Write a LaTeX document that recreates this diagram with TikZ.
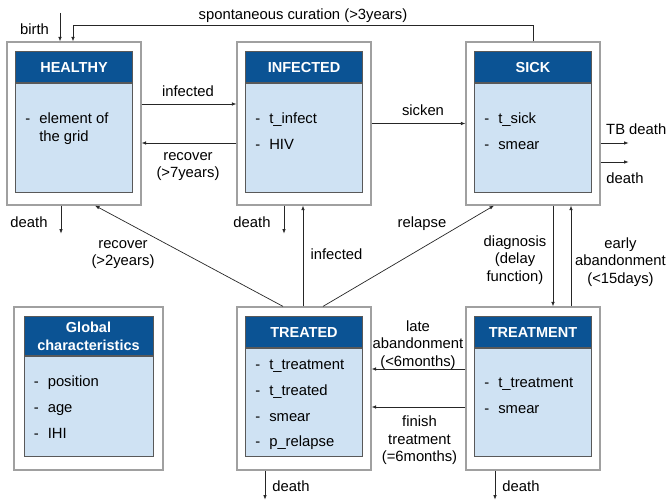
\documentclass[tikz,border=0pt]{standalone}
\usepackage{fontspec}
\setmainfont{Liberation Sans}
\usetikzlibrary{positioning,calc,arrows.meta}

\definecolor{hdrblue}{HTML}{0B5394}
\definecolor{bodyblue}{HTML}{CFE2F3}
\definecolor{boxgray}{HTML}{A0A0A0}
\definecolor{linegray}{HTML}{595959}

\newcommand{\itm}[1]{\makebox[14pt][l]{-}#1}

\tikzset{
	outer/.style={draw=boxgray, line width=1.2pt, fill=white, minimum width=134pt, minimum height=163pt, inner sep=0pt},
	head/.style={draw=linegray, line width=0.8pt, fill=hdrblue, text=white, font=\fontsize{14.5}{18}\selectfont\bfseries, minimum width=117pt, minimum height=31pt, inner sep=0pt, align=center},
	body/.style={draw=linegray, line width=0.8pt, fill=bodyblue, minimum width=117pt, minimum height=109pt, inner sep=0pt},
	attr/.style={anchor=north west, align=left, inner sep=0pt, font=\fontsize{14.8}{18}\selectfont},
	lbl/.style={align=center, inner sep=0pt, font=\fontsize{14.8}{17.5}\selectfont},
	arr/.style={-{Latex[length=4.5pt,width=3.5pt]}, draw=black!85, line width=0.7pt},
	ln/.style={draw=black!85, line width=0.7pt}
}

\begin{document}
\begin{tikzpicture}[x=1pt, y=-1pt]
	\useasboundingbox (0,0) rectangle (666,502);

	% stati
	\node[outer] (healthy) at (74, 123.5) {};
	\node[outer] (infected) at (304, 123.5) {};
	\node[outer] (sick) at (533, 123.5) {};
	\node[outer, minimum width=149pt] (glob) at (88.5, 388.5) {};
	\node[outer] (treated) at (304, 388.5) {};
	\node[outer] (treatment) at (533, 388.5) {};

	\node[head, below=10pt of healthy.north] (healthyhead) {HEALTHY};
	\node[body, below=0pt of healthyhead] (healthybody) {};
	\node[attr] (healthyattr) at ([xshift=10pt, yshift=-29.5pt]healthybody.north west) {\itm{element of}\\\hspace*{14pt}the grid};

	\node[head, below=10pt of infected.north] (infectedhead) {INFECTED};
	\node[body, below=0pt of infectedhead] (infectedbody) {};
	\node[attr] (infectedattr) at ([xshift=10pt, yshift=-29.5pt]infectedbody.north west) {\itm{t\_infect}\\[8pt]\itm{HIV}};

	\node[head, below=10pt of sick.north] (sickhead) {SICK};
	\node[body, below=0pt of sickhead] (sickbody) {};
	\node[attr] (sickattr) at ([xshift=10pt, yshift=-29.5pt]sickbody.north west) {\itm{t\_sick}\\[8pt]\itm{smear}};

	\node[head, minimum width=129pt, minimum height=39pt, below=10pt of glob.north] (globhead) {Global\\characteristics};
	\node[body, minimum width=129pt, minimum height=100pt, below=0pt of globhead] (globbody) {};
	\node[attr] (globattr) at ([xshift=10pt, yshift=-19.5pt]globbody.north west) {\itm{position}\\[8pt]\itm{age}\\[8pt]\itm{IHI}};

	\node[head, below=10pt of treated.north] (treatedhead) {TREATED};
	\node[body, minimum height=108pt, below=0pt of treatedhead] (treatedbody) {};
	\node[attr] (treatedattr) at ([xshift=10pt, yshift=-11.5pt]treatedbody.north west) {\itm{t\_treatment}\\[7.8pt]\itm{t\_treated}\\[7.8pt]\itm{smear}\\[7.8pt]\itm{p\_relapse}};

	\node[head, below=10pt of treatment.north] (treatmenthead) {TREATMENT};
	\node[body, minimum height=108pt, below=0pt of treatmenthead] (treatmentbody) {};
	\node[attr] (treatmentattr) at ([xshift=10pt, yshift=-29.5pt]treatmentbody.north west) {\itm{t\_treatment}\\[8pt]\itm{smear}};

	% transizioni
	\coordinate (birth) at (60, 13);
	\draw[arr] (birth) -- (birth |- healthy.north);
	\node[lbl] (lbirth) at (34.5, 29) {birth};

	\draw[arr] (sick.north) -- ++(0,-16) -| ([xshift=-1pt]healthy.north);
	\node[lbl] (lspont) at (303, 16) {spontaneous curation (>3years)};

	\draw[arr] ([yshift=19.5pt]healthy.east) -- ([yshift=19.5pt]infected.west);
	\node[lbl] (linf) at (188, 91) {infected};
	\draw[arr] ([yshift=-19.5pt]infected.west) -- ([yshift=-19.5pt]healthy.east);
	\node[lbl] (lrec7) at (188, 166.5) {recover\\(>7years)};

	\draw[arr] (infected.east) -- (sick.west);
	\node[lbl] (lsick) at (423, 110) {sicken};

	\draw[arr] ([yshift=-19.5pt]sick.east) -- ++(28,0);
	\node[lbl, anchor=west] (ltbd) at (606, 129) {TB death};
	\draw[arr] ([yshift=-38.5pt]sick.east) -- ++(28,0);
	\node[lbl] (lsdeath) at (625, 178) {death};

	\draw[arr] ([xshift=-13pt]healthy.south) -- ++(0,28);
	\node[lbl] (lhdeath) at (29, 222) {death};
	\draw[arr] ([xshift=-20pt]infected.south) -- ++(0,28);
	\node[lbl] (lideath) at (252, 222) {death};

	\draw[arr] ([xshift=-1pt]treated.north) -- ([xshift=-1pt]infected.south);
	\node[lbl] (linf2) at (336.5, 254) {infected};
	\draw[arr] ([xshift=-21pt]treated.north) -- ([xshift=21pt]healthy.south);
	\node[lbl] (lrec2) at (123, 254.5) {recover\\(>2years)};
	\draw[arr] ([xshift=19pt]treated.north) -- ([xshift=-39pt]sick.south);
	\node[lbl] (lrelapse) at (422, 223.5) {relapse};

	\draw[arr] ([xshift=20pt]sick.south) -- ([xshift=20pt]treatment.north);
	\node[lbl] (ldiag) at (515, 260) {diagnosis\\(delay\\function)};
	\draw[arr] ([xshift=38pt]treatment.north) -- ([xshift=38pt]sick.south);
	\node[lbl] (learly) at (620.5, 262) {early\\abandonment\\(<15days)};

	\draw[arr] ([yshift=19.5pt]treatment.west) -- ([yshift=19.5pt]treated.east);
	\node[lbl] (llate) at (418, 345) {late\\abandonment\\(<6months)};
	\draw[arr] ([yshift=-18.5pt]treatment.west) -- ([yshift=-18.5pt]treated.east);
	\node[lbl] (lfinish) at (419.5, 440.5) {finish\\treatment\\(=6months)};

	\draw[arr] ([xshift=-39pt]treated.south) -- ++(0,29);
	\node[lbl] (ltddeath) at (291, 486) {death};
	\draw[arr] ([xshift=-38pt]treatment.south) -- ++(0,29);
	\node[lbl] (ltmdeath) at (521, 486) {death};
\end{tikzpicture}
\end{document}
